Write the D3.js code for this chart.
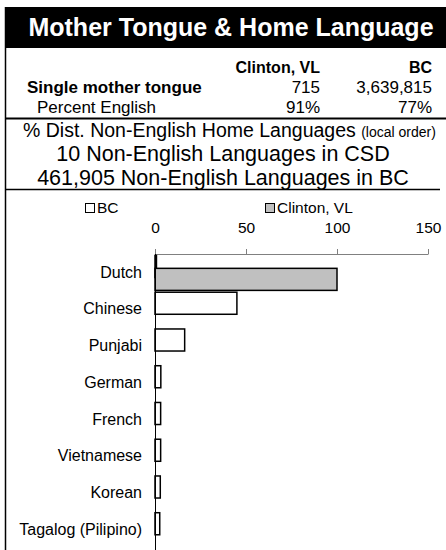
<!DOCTYPE html>
<html>
<head>
<meta charset="utf-8">
<script src="https://cdn.jsdelivr.net/npm/d3@7"></script>
<style>
  html, body { margin: 0; padding: 0; background: #fff; }
  svg { display: block; font-family: "Liberation Sans", Arial, sans-serif; }
</style>
</head>
<body>
<svg id="chart" width="446" height="550"></svg>
<script>
// ---- data ----
const title = "Mother Tongue & Home Language";
const places = ["Clinton, VL", "BC"];
const singleMotherTongue = ["715", "3,639,815"];
const percentEnglish = ["91%", "77%"];
const infoLines = ["10 Non-English Languages in CSD", "461,905 Non-English Languages in BC"];
const categories = ["Dutch", "Chinese", "Punjabi", "German", "French", "Vietnamese", "Korean", "Tagalog (Pilipino)"];
const bcValues = [0.8, 45, 16.3, 3.2, 3.1, 3.1, 2.9, 2.6];
const clintonValues = [100, 0, 0, 0, 0, 0, 0, 0];
const xTicks = [0, 50, 100, 150];

const svg = d3.select("#chart");

// title band
svg.append("rect").attr("x", 5).attr("y", 7).attr("width", 441).attr("height", 41).attr("fill", "#000");
svg.append("text").attr("x", 231).attr("y", 36).attr("text-anchor", "middle")
  .attr("fill", "#fff").attr("font-weight", "bold").attr("font-size", 25).text(title);

// left border
svg.append("line").attr("x1", 5.5).attr("x2", 5.5).attr("y1", 7).attr("y2", 550)
  .attr("stroke", "#000").attr("stroke-width", 1.5);

// table
const colX = [320, 432];
places.forEach((p, i) => {
  svg.append("text").attr("x", colX[i]).attr("y", 73).attr("text-anchor", "end")
    .attr("font-weight", "bold").attr("font-size", 16).text(p);
  svg.append("text").attr("x", colX[i]).attr("y", 93).attr("text-anchor", "end")
    .attr("font-size", 17).text(singleMotherTongue[i]);
  svg.append("text").attr("x", colX[i]).attr("y", 113).attr("text-anchor", "end")
    .attr("font-size", 17).text(percentEnglish[i]);
});
svg.append("text").attr("x", 27).attr("y", 93).attr("font-weight", "bold").attr("font-size", 17).text("Single mother tongue");
svg.append("text").attr("x", 37).attr("y", 113).attr("font-size", 17).text("Percent English");

svg.append("line").attr("x1", 5).attr("x2", 446).attr("y1", 118.5).attr("y2", 118.5)
  .attr("stroke", "#000").attr("stroke-width", 2);

const sub = svg.append("text").attr("x", 23).attr("y", 137).attr("font-size", 19.5);
sub.append("tspan").text("% Dist. Non-English Home Languages ");
sub.append("tspan").attr("font-size", 14).text("(local order)");

infoLines.forEach((t, i) => {
  svg.append("text").attr("x", 223).attr("y", 161 + i * 24).attr("text-anchor", "middle")
    .attr("font-size", 21.5).text(t);
});

svg.append("line").attr("x1", 5).attr("x2", 440).attr("y1", 189.5).attr("y2", 189.5)
  .attr("stroke", "#000").attr("stroke-width", 1.5);

// legend
const legend = [
  { label: "BC", fill: "#fff", x: 85 },
  { label: "Clinton, VL", fill: "#c0c0c0", x: 265 }
];
legend.forEach(l => {
  svg.append("rect").attr("x", l.x + 0.5).attr("y", 203.5).attr("width", 9).attr("height", 9)
    .attr("fill", l.fill).attr("stroke", "#000").attr("stroke-width", 1);
  svg.append("text").attr("x", l.x + 12).attr("y", 213).attr("font-size", 15.5).text(l.label);
});

// scales
const x = d3.scaleLinear().domain([0, 150]).range([155, 428]);
const y = d3.scaleBand().domain(categories).range([254, 548]).padding(0);
const bw = y.bandwidth();

// top axis
const xAxis = svg.append("g").attr("transform", "translate(0,254)")
  .call(d3.axisTop(x).tickValues(xTicks).tickSize(5).tickPadding(16).tickSizeOuter(0));
xAxis.select(".domain").attr("stroke", "#808080");
xAxis.selectAll(".tick line").attr("stroke", "#808080");
xAxis.selectAll(".tick text").attr("font-size", 15.5).attr("fill", "#000")
  .attr("font-family", "Liberation Sans, Arial, sans-serif");

// bars
const barH = bw * 0.6;
svg.append("g").selectAll("rect").data(categories).join("rect")
  .attr("x", x(0)).attr("y", d => y(d) + bw * 0.04)
  .attr("width", (d, i) => x(bcValues[i]) - x(0)).attr("height", barH)
  .attr("fill", "#fff").attr("stroke", "#000").attr("stroke-width", 1.5);
svg.append("g").selectAll("rect").data(categories).join("rect")
  .attr("x", x(0)).attr("y", d => y(d) + bw * 0.39)
  .attr("width", (d, i) => x(clintonValues[i]) - x(0)).attr("height", barH)
  .attr("fill", "#c0c0c0").attr("stroke", "#000")
  .attr("stroke-width", (d, i) => clintonValues[i] > 0 ? 1.5 : 0);

// y axis
const yAxis = svg.append("g").attr("transform", "translate(155,0)")
  .call(d3.axisLeft(y).tickSize(0).tickPadding(13));
yAxis.select(".domain").attr("stroke", "#000").attr("d", "M0.5,254V550");
yAxis.selectAll(".tick text").attr("font-size", 16).attr("fill", "#000")
  .attr("font-family", "Liberation Sans, Arial, sans-serif");
</script>
</body>
</html>
